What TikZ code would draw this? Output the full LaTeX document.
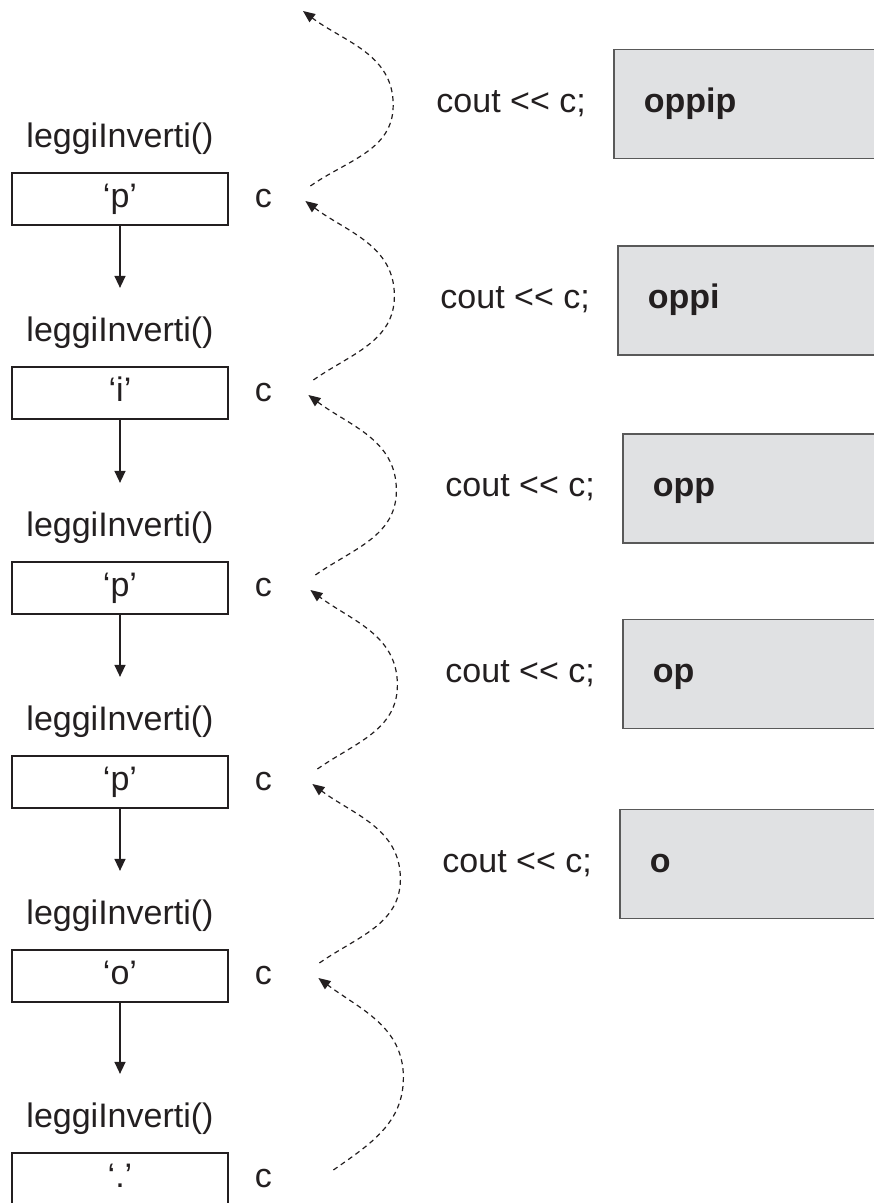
\documentclass[tikz,border=0pt]{standalone}
\usepackage{fontspec}
\setmainfont{Liberation Sans}
\usetikzlibrary{positioning,calc,arrows.meta}
\definecolor{boxgray}{RGB}{224,225,227}
\definecolor{ink}{RGB}{35,31,32}

\begin{document}
\begin{tikzpicture}[
    x=1pt, y=1pt,
    every node/.style={
        font=\fontsize{34}{40}\selectfont,
        text=ink,
        inner sep=0pt,
        text height=24pt,
        text depth=7pt
    },
    frame/.style={
        rectangle,
        draw=ink,
        line width=1.4pt,
        minimum width=216pt,
        minimum height=52pt
    },
    output/.style={
        rectangle,
        draw=black!65,
        fill=boxgray,
        line width=1.6pt,
        minimum height=109pt,
        text width=220pt,
        inner xsep=30pt,
        align=left,
        anchor=west,
        font=\fontsize{34}{40}\selectfont\bfseries
    },
    call/.style={
        draw=ink,
        line width=1.4pt,
        -{Triangle[length=12pt,width=11pt]},
        shorten >=29pt
    },
    back/.style={
        draw=ink,
        line width=1.2pt,
        dash pattern=on 5pt off 4pt,
        -{Triangle[length=12pt,width=10pt]}
    }
]

\useasboundingbox (0,0) rectangle (874,1203);
\clip (0,0) rectangle (874,1203);

% Recursive calls
\foreach \i/\y/\ch in {1/1004/‘p’, 2/810/‘i’, 3/615/‘p’, 4/421/‘p’, 5/227/‘o’, 6/24/‘.’} {
    \node[frame] (b\i) at (120,\y) {\ch};
    \node[above=18pt of b\i] (l\i) {leggiInverti()};
    \node[right=26pt of b\i] (c\i) {c};
}

\foreach \i/\j in {1/2, 2/3, 3/4, 4/5, 5/6} {
    \draw[call] (b\i.south) -- (b\i.south |- l\j.north);
}

% Returns
\coordinate (top) at (303,1192);

\foreach \a/\b/\sx/\sy/\ex/\ey/\bx in {c1/top/47/13/0/0/110, c2/c1/50/13/42/-2/131,
    c3/c2/52/13/45/-2/133, c4/c3/54/13/47/-2/134, c5/c4/56/13/49/-2/137, c6/c5/70/9/55/-2/140} {
    \draw[back] ($(\a)+(\sx,\sy)$) to[out=35,in=-90] ($(\a)!0.5!(\b)+(\bx,0)$)
        to[out=90,in=-37] ($(\b)+(\ex,\ey)$);
}

% Output so far
\foreach \i/\x/\y/\txt in {1/613/1099/oppip, 2/617/902.5/oppi, 3/622/714.5/opp, 4/622/529/op, 5/619/339/o} {
    \node[output] (o\i) at (\x,\y) {\txt};
    \node[left=27pt of o\i] (s\i) {cout <{}< c;};
}

\end{tikzpicture}
\end{document}
